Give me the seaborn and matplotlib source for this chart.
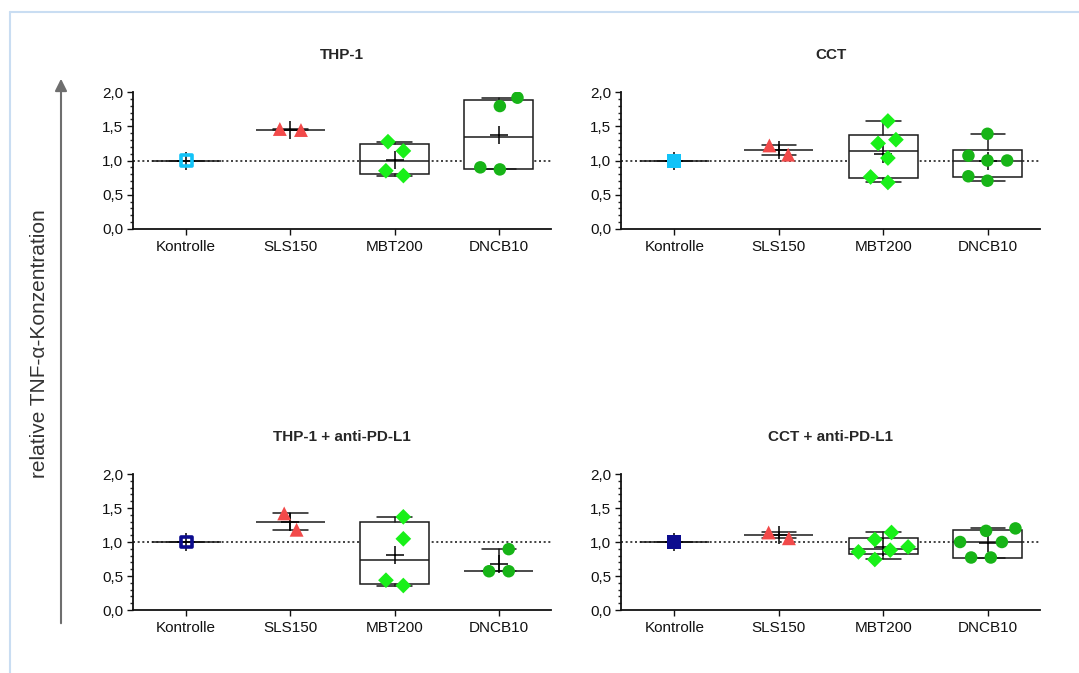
import numpy as np
import matplotlib
matplotlib.use("Agg")
import matplotlib.pyplot as plt
from matplotlib.patches import FancyArrowPatch
from matplotlib.lines import Line2D
from matplotlib.ticker import MultipleLocator, FixedLocator, FixedFormatter
import seaborn as sns

# ---------------- data ----------------
categories = ["Kontrolle", "SLS150", "MBT200", "DNCB10"]
panel_titles = ["THP-1", "CCT", "THP-1 + anti-PD-L1", "CCT + anti-PD-L1"]
ytick_values = [0.0, 0.5, 1.0, 1.5, 2.0]
ytick_labels = ["0,0", "0,5", "1,0", "1,5", "2,0"]

thp1_kontrolle = [1.0]
thp1_sls150 = [1.445, 1.46]
thp1_mbt200 = [0.78, 0.85, 1.14, 1.275]
thp1_dncb10 = [0.87, 0.90, 1.795, 1.917]

cct_kontrolle = [1.0]
cct_sls150 = [1.085, 1.22]
cct_mbt200 = [0.68, 0.76, 1.036, 1.25, 1.304, 1.577]
cct_dncb10 = [0.705, 0.77, 1.0, 1.0, 1.07, 1.39]

thp1pd_kontrolle = [1.0]
thp1pd_sls150 = [1.18, 1.42]
thp1pd_mbt200 = [0.36, 0.438, 1.047, 1.37]
thp1pd_dncb10 = [0.57, 0.57, 0.895]

cctpd_kontrolle = [1.0]
cctpd_sls150 = [1.055, 1.14]
cctpd_mbt200 = [0.743, 0.855, 0.88, 0.928, 1.037, 1.14]
cctpd_dncb10 = [0.772, 0.772, 1.0, 1.0, 1.164, 1.20]

panels_data = [
    [thp1_kontrolle, thp1_sls150, thp1_mbt200, thp1_dncb10],
    [cct_kontrolle, cct_sls150, cct_mbt200, cct_dncb10],
    [thp1pd_kontrolle, thp1pd_sls150, thp1pd_mbt200, thp1pd_dncb10],
    [cctpd_kontrolle, cctpd_sls150, cctpd_mbt200, cctpd_dncb10],
]

# ---------------- styles ----------------
cyan = "#12C3F8"
navy = "#0C0C8E"
red = "#F24A4A"
lime = "#19F019"
green = "#17B417"
kontrolle_style = [
    dict(color=cyan, open=True),
    dict(color=cyan, open=False),
    dict(color=navy, open=True),
    dict(color=navy, open=False),
]
group_markers = {1: ("^", red, 10), 2: ("D", lime, 8), 3: ("o", green, 9)}
swarm_gap = 4.5  # invisible edge width that widens the swarm spacing

sns.set_style("ticks")
plt.rcParams["font.family"] = ["Liberation Sans", "DejaVu Sans"]

fig = plt.figure(figsize=(10.79, 6.73), dpi=100)

W, H = 1079.0, 673.0
def fx(px):
    return px / W
def fy(py):
    return 1 - py / H

positions = [
    (133, 551, 92, 229),
    (621, 1040, 92, 229),
    (133, 551, 474, 610),
    (621, 1040, 474, 610),
]

line_col = "#1a1a1a"
swarm_groups = []  # (collection, category index)

for pi, (x0, x1, y0, y1) in enumerate(positions):
    ax = fig.add_axes([fx(x0), fy(y1), fx(x1) - fx(x0), fy(y0) - fy(y1)])
    data = panels_data[pi]

    # reference line
    ax.axhline(1.0, ls=(0, (1.2, 1.6)), color="#222222", lw=1.2, zorder=0.5)

    # boxes / whiskers / means
    for gi, vals in enumerate(data):
        v = np.asarray(vals, float)
        med = float(np.median(v))
        if len(v) >= 4:
            q1 = float(np.percentile(v, 25, method="weibull"))
            q3 = float(np.percentile(v, 75, method="weibull"))
            showbox = True
        else:
            q1 = q3 = med
            showbox = False
        stats = [dict(med=med, q1=q1, q3=q3, whislo=float(v.min()),
                      whishi=float(v.max()), mean=float(v.mean()), fliers=[])]
        ax.bxp(stats, positions=[gi], widths=0.66, capwidths=0.33,
               showbox=showbox, showmeans=True, showfliers=False,
               patch_artist=True,
               boxprops=dict(facecolor="white", edgecolor=line_col, lw=1.1),
               medianprops=dict(color=line_col, lw=1.1),
               whiskerprops=dict(color=line_col, lw=1.1),
               capprops=dict(color=line_col, lw=1.1),
               meanprops=dict(marker="+", markersize=13, markeredgecolor="black",
                              markeredgewidth=1.1),
               manage_ticks=False, zorder=2)

    # points
    for gi, vals in enumerate(data):
        before = len(ax.collections)
        if gi == 0:
            st = kontrolle_style[pi]
            sns.swarmplot(x=[categories[gi]] * len(vals), y=vals, order=categories,
                          ax=ax, marker="s", color=st["color"], size=10,
                          linewidth=0, zorder=4, legend=False)
            for c in ax.collections[before:]:
                if st["open"]:
                    c.set_facecolor("none")
                    c.set_edgecolor(st["color"])
                    c.set_linewidth(2.6)
                    c.set_sizes([62])
        else:
            mk, col, sz = group_markers[gi]
            sns.swarmplot(x=[categories[gi]] * len(vals), y=vals, order=categories,
                          ax=ax, marker=mk, color=col, size=sz,
                          linewidth=swarm_gap, zorder=4, legend=False)
            for c in ax.collections[before:]:
                c.set_edgecolor("none")
                if len(c.get_offsets()) > 0:
                    swarm_groups.append((c, gi))

    ax.set_xlim(-0.51, 3.5)
    ax.set_ylim(0, 2.0)
    ax.yaxis.set_major_locator(FixedLocator(ytick_values))
    ax.yaxis.set_major_formatter(FixedFormatter(ytick_labels))
    ax.yaxis.set_minor_locator(MultipleLocator(0.1))
    ax.set_xticks(range(len(categories)))
    ax.set_xticklabels(categories)
    ax.set_xlabel("")
    ax.set_ylabel("")
    ax.tick_params(axis="both", which="major", labelsize=11, colors="#111111",
                   length=4, width=1.0, pad=3)
    ax.tick_params(axis="y", which="minor", length=2.5, width=1.0)
    ax.tick_params(axis="x", pad=4)
    for s in ["top", "right"]:
        ax.spines[s].set_visible(False)
    for s in ["left", "bottom"]:
        ax.spines[s].set_linewidth(1.3)
        ax.spines[s].set_color("#111111")
    ax.set_title(panel_titles[pi], fontsize=11, fontweight="bold", pad=24)

# y label and arrow
fig.text(fx(40), fy(344), "relative TNF-α-Konzentration", rotation=90,
         ha="center", va="center", fontsize=15, color="#333333")
arrow = FancyArrowPatch((fx(61), fy(626)), (fx(61), fy(76)), transform=fig.transFigure,
                        arrowstyle="-|>", mutation_scale=18, color="#6e6e6e", lw=1.5)
fig.add_artist(arrow)

# light blue frame (top and left)
fig.add_artist(Line2D([fx(10), 1.0], [fy(12), fy(12)], transform=fig.transFigure,
                      color="#C9DDF2", lw=1.5))
fig.add_artist(Line2D([fx(10), fx(10)], [fy(12), 0.0], transform=fig.transFigure,
                      color="#C9DDF2", lw=1.5))

# let seaborn lay out the swarms, then centre each swarm on its category
fig.canvas.draw()
for c, gi in swarm_groups:
    offs = np.array(c.get_offsets(), dtype=float)
    if len(offs) == 0:
        continue
    shift = (offs[:, 0].min() + offs[:, 0].max()) / 2 - gi
    offs[:, 0] -= shift
    if "draw" in c.__dict__:
        del c.__dict__["draw"]
    c.set_offsets(offs)

fig.savefig("out.png", dpi=100, facecolor="white")
